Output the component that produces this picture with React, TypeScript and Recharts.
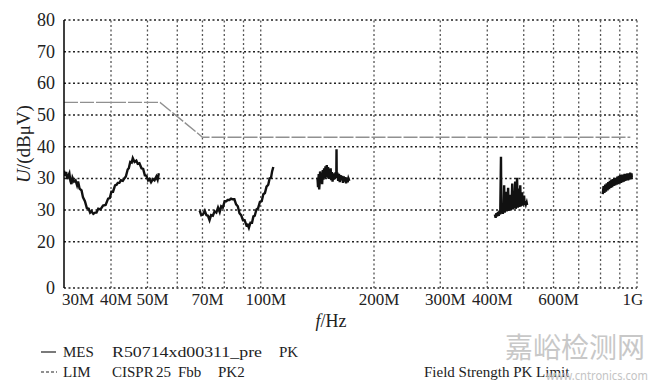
import { LineChart, Line, XAxis, YAxis, ReferenceLine } from 'recharts';

// frequency in MHz, level in dBµV
const xTicks = [30, 40, 50, 60, 70, 80, 90, 100, 200, 300, 400, 500, 600, 700, 800, 900, 1000];
const xLabelValues = [30, 40, 50, 70, 100, 200, 300, 400, 600, 1000];
const xLabelTexts = ['30M', '40M', '50M', '70M', '100M', '200M', '300M', '400M', '600M', '1G'];

// the printed axis is odd (two "30"s, bottom "0"), kept as in the figure
const yTicks = [-4.6, 10, 20, 30, 40, 50, 60, 70, 80];
const yTickLabels = ['0', '20', '30', '30', '40', '50', '60', '70', '80'];

const limFreq = [30, 54, 70, 960];
const limLevel = [54, 54, 43, 43];

const mes1: [number, number][] = [
  [30.0, 32.4], [30.2, 30.8], [30.4, 32.0], [30.6, 29.8], [30.8, 30.8], [31.0, 31.6], [31.2, 29.2],
  [31.4, 28.2], [31.6, 30.2], [31.9, 29.0], [32.2, 29.4], [32.5, 27.8], [32.7, 29.0], [33.0, 26.8],
  [33.4, 26.2], [33.7, 24.0], [34.1, 22.8], [34.5, 20.6], [34.9, 20.4], [35.2, 19.2], [35.5, 19.6],
  [35.9, 18.8], [36.3, 19.2], [36.6, 19.2], [37.0, 20.4], [37.5, 20.2], [38.1, 21.4], [38.7, 21.6],
  [39.3, 23.6], [39.7, 23.8], [40.1, 25.8], [40.5, 25.8], [41.0, 27.8], [41.4, 28.0], [41.7, 28.6],
  [42.1, 28.6], [42.5, 29.4], [43.0, 29.2], [43.4, 30.0], [43.8, 30.6], [44.3, 32.8], [44.6, 33.2],
  [45.0, 35.2], [45.4, 35.0], [45.7, 36.4], [46.2, 35.2], [46.7, 35.6], [47.1, 34.6], [47.6, 34.8],
  [48.2, 33.2], [48.7, 33.0], [49.2, 31.0], [49.7, 30.8], [50.2, 29.4], [50.6, 29.8], [51.1, 28.8],
  [51.7, 29.8], [52.2, 29.4], [52.8, 30.6], [53.2, 29.6], [53.6, 31.6],
];

const mes2: [number, number][] = [
  [68.8, 19.8], [69.5, 18.4], [70.2, 18.6], [71.0, 19.8], [71.7, 18.4], [72.4, 18.2], [73.1, 16.8],
  [73.8, 18.4], [74.6, 18.2], [75.4, 19.6], [76.2, 19.2], [77.0, 20.8], [77.8, 19.4], [78.5, 21.2],
  [79.3, 20.8], [80.2, 22.8], [81.0, 22.8], [81.7, 23.2], [82.5, 23.2], [83.4, 23.6], [84.2, 23.4],
  [85.1, 23.4], [86.0, 21.8], [86.9, 21.2], [87.8, 19.0], [88.7, 18.4], [89.7, 16.8], [90.6, 16.8],
  [91.6, 15.2], [92.3, 15.4], [93.0, 14.4], [93.9, 16.0], [94.8, 16.0], [95.6, 18.0], [96.4, 18.2],
  [97.4, 20.2], [98.4, 20.6], [99.5, 22.6], [100.6, 22.8], [101.6, 25.0], [102.6, 25.4], [103.6, 27.4],
  [104.7, 28.0], [105.6, 30.0], [106.5, 30.2], [107.2, 32.2], [108.0, 33.6],
];

const mes3: [number, number][] = [
  [141.5, 30.2], [142.0, 27.2], [142.6, 31.4], [143.0, 26.5], [143.4, 28.6], [143.8, 32.2], [144.4, 29.0],
  [145.0, 31.6], [145.6, 28.2], [146.2, 32.6], [146.8, 29.6], [147.4, 33.2], [148.0, 30.0], [148.6, 33.8],
  [149.2, 30.4], [149.8, 34.2], [150.4, 30.2], [151.0, 33.6], [151.6, 29.8], [152.2, 32.8], [152.8, 30.4],
  [153.4, 33.2], [154.0, 29.4], [154.6, 32.0], [155.2, 29.0], [155.8, 31.6], [156.4, 29.6], [157.0, 31.2],
  [157.6, 30.0], [158.2, 32.0], [158.8, 30.4], [159.0, 39.2], [159.2, 30.2], [159.8, 31.8], [160.6, 29.2],
  [161.4, 31.4], [162.2, 28.8], [163.0, 31.0], [163.8, 29.4], [164.6, 30.8], [165.4, 28.6], [166.2, 30.6],
  [167.0, 29.0], [167.8, 30.4], [168.6, 28.4], [169.4, 30.2], [170.2, 28.8], [171.0, 30.0], [172.0, 29.2],
];

const mes4: [number, number][] = [
  [419, 18.6], [421, 17.6], [423, 19.0], [425, 18.0], [427, 19.4], [429, 18.2], [431, 19.8], [433, 18.6],
  [435, 36.8], [436, 19.0], [438, 20.2], [440, 18.8], [442, 20.6], [443.5, 27.8], [445, 19.2], [447, 20.8],
  [449, 25.8], [450.5, 19.6], [452, 21.0], [454.5, 27.0], [456, 19.8], [458, 21.2], [460, 24.8], [462, 20.0],
  [464, 21.4], [466, 28.4], [468, 20.2], [470, 25.8], [472, 20.6], [474.5, 29.0], [476, 20.4], [478, 21.8],
  [480, 30.2], [482, 20.8], [484, 22.0], [486, 26.8], [488, 21.0], [489.5, 27.8], [491, 21.2], [493, 22.4],
  [495, 25.6], [497, 21.4], [499, 22.6], [501, 24.6], [503, 21.6], [505, 22.8], [507, 21.8], [509, 22.4],
  [510.5, 21.6],
];

const mes5: [number, number][] = [
  [811, 25.0], [815, 27.6], [819, 25.4], [823, 28.0], [827, 25.8], [831, 28.4], [835, 26.2], [839, 28.8],
  [843, 26.6], [847, 29.2], [851, 27.0], [855, 29.6], [859, 27.2], [863, 29.8], [867, 27.6], [871, 30.2],
  [875, 27.8], [879, 30.2], [883, 28.0], [887, 30.6], [891, 28.2], [895, 30.8], [899, 28.4], [903, 31.0],
  [907, 28.6], [911, 31.2], [915, 28.8], [919, 31.2], [923, 29.0], [927, 31.4], [931, 29.2], [935, 31.4],
  [939, 29.4], [943, 31.6], [947, 29.4], [951, 31.6], [955, 29.6], [959, 31.8], [963, 29.8], [967, 31.6],
  [969, 30.2],
];

const toRows = (pts: [number, number][]) => pts.map(([f, v]) => ({ f, v }));
const limRows = limFreq.map((f, i) => ({ f, v: limLevel[i] }));
const mesSegments = [mes1, mes2, mes3, mes4, mes5].map(toRows);

const serif = "'Liberation Serif', 'DejaVu Serif', serif";

const XTick = ({ x, y, payload }: any) => {
  const i = xLabelValues.indexOf(payload.value);
  if (i < 0) return <g />;
  const first = i === 0;
  const last = i === xLabelValues.length - 1;
  return (
    <text x={first ? x - 2 : last ? x - 4 : x + 5} y={y} dy={12} textAnchor={first ? 'start' : 'middle'}
      style={{ fontFamily: serif, fontSize: 17 }} fill="#222">
      {xLabelTexts[i]}
    </text>
  );
};

const YTick = ({ x, y, payload, index }: any) => (
  <text x={x} y={y} dy={6} textAnchor="end" style={{ fontFamily: serif, fontSize: 18 }} fill="#222">
    {yTickLabels[index] ?? payload.value}
  </text>
);

export default function App() {
  return (
    <div style={{ position: 'absolute', left: 0, top: 0, width: 654, height: 385, background: '#fff' }}>
      <LineChart width={654} height={385} margin={{ top: 20, right: 17, bottom: 67, left: 0 }}>
        <XAxis dataKey="f" type="number" scale="log" domain={[30, 1000]} allowDataOverflow
          ticks={xTicks} interval={0} tick={<XTick />} tickLine={false} axisLine={false}
          height={30} tickSize={0} tickMargin={5} />
        <YAxis type="number" domain={[-4.6, 80]} allowDataOverflow ticks={yTicks} interval={0}
          tick={<YTick />} tickLine={false} tickSize={0} tickMargin={9} width={64}
          axisLine={{ stroke: '#000', strokeWidth: 1.5 }} />
        {yTicks.map((v) => (
          <ReferenceLine key={`h${v}`} y={v} stroke="#222" strokeWidth={1.5} strokeDasharray="2 2.5" />
        ))}
        {xTicks.slice(1).map((v) => (
          <ReferenceLine key={`v${v}`} x={v} stroke="#555" strokeWidth={1.3} strokeDasharray="2 2.5" />
        ))}
        <Line data={limRows} dataKey="v" stroke="#909090" strokeWidth={1.4} strokeDasharray="14 2"
          dot={false} isAnimationActive={false} />
        {mesSegments.map((rows, i) => (
          <Line key={i} data={rows} dataKey="v" stroke="#111" strokeWidth={2.4}
            dot={false} isAnimationActive={false} />
        ))}
      </LineChart>
      <svg width={654} height={385} style={{ position: 'absolute', left: 0, top: 0, pointerEvents: 'none' }}>
        <text transform="rotate(-90, 26, 144)" x={26} y={144} textAnchor="middle" dominantBaseline="middle"
          style={{ fontFamily: serif, fontSize: 19 }} fill="#222">
          <tspan fontStyle="italic">U</tspan>/(dBμV)
        </text>
        <text x={331} y={327} textAnchor="middle" style={{ fontFamily: serif, fontSize: 18 }} fill="#222">
          <tspan fontStyle="italic">f</tspan>/Hz
        </text>
        <line x1={41} y1={352} x2={56} y2={352} stroke="#222" strokeWidth={1.2} />
        <line x1={41} y1={372} x2={57} y2={372} stroke="#222" strokeWidth={1.2} strokeDasharray="3 2" />
        <g style={{ fontFamily: serif, fontSize: 15 }} fill="#222">
          <text x={63} y={357}>MES</text>
          <text x={112} y={357} textLength={150} lengthAdjust="spacingAndGlyphs">R50714xd00311_pre</text>
          <text x={279} y={357}>PK</text>
          <text x={63} y={377}>LIM</text>
          <text x={112} y={377}>CISPR</text>
          <text x={156} y={377}>25</text>
          <text x={178} y={377}>Fbb</text>
          <text x={218} y={377}>PK2</text>
          <text x={424} y={377}>Field Strength PK Limit</text>
        </g>
        <text x={505} y={358} style={{ fontFamily: "'Noto Sans CJK SC', sans-serif", fontSize: 28 }} fill="#c8c8c8">嘉峪检测网</text>
        <text x={546} y={380} textLength={102} lengthAdjust="spacingAndGlyphs"
          style={{ fontFamily: "'Noto Sans', sans-serif", fontSize: 13 }} fill="#c4c4c4">www.cntronics.com</text>
      </svg>
    </div>
  );
}
